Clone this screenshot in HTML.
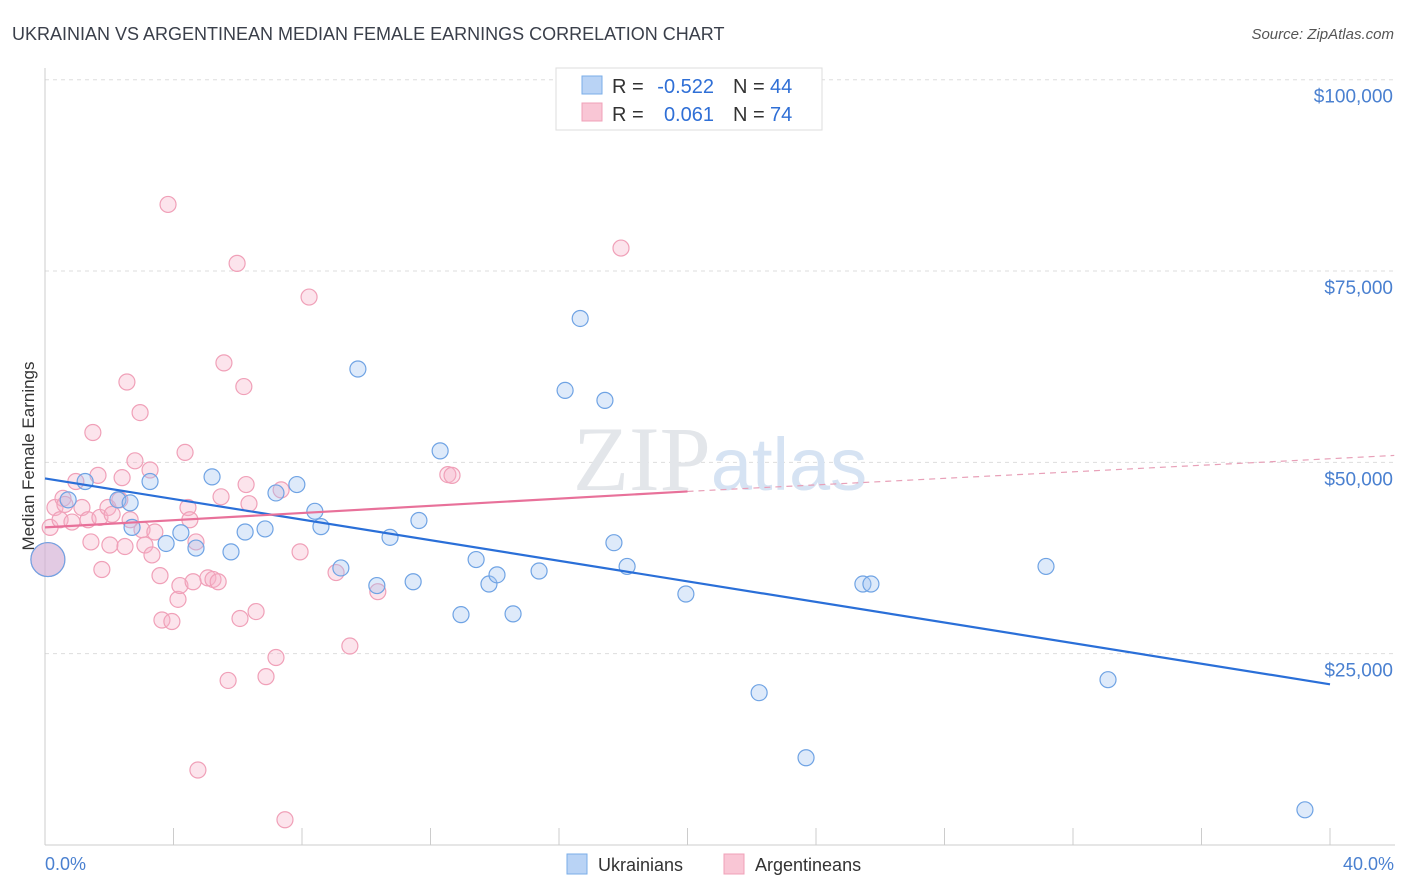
<!DOCTYPE html>
<html><head><meta charset="utf-8"><style>
body{margin:0;background:#fff;font-family:"Liberation Sans",sans-serif}
svg{display:block}
</style></head><body>
<svg id="chart" width="1406" height="892" xmlns="http://www.w3.org/2000/svg">
<text x="12" y="40" font-size="18" fill="#3a3f4a">UKRAINIAN VS ARGENTINEAN MEDIAN FEMALE EARNINGS CORRELATION CHART</text>
<text x="1394" y="39" font-size="15" fill="#555" text-anchor="end" font-style="italic">Source: ZipAtlas.com</text>
<g id="grid"></g>
<text x="720" y="490" font-size="92" text-anchor="middle" fill="#e3e6ea" font-family="Liberation Serif,serif">ZIP<tspan fill="#d6e3f3" font-family="Liberation Sans,sans-serif" font-size="74">atlas</tspan></text>
<line x1="45" y1="68" x2="45" y2="845" stroke="#ccc"/>
<line x1="45" y1="845" x2="1395" y2="845" stroke="#ccc"/>
<g id="xticks"></g>
<text transform="translate(34,456) rotate(-90)" font-size="17" fill="#333" text-anchor="middle">Median Female Earnings</text>
<text x="45" y="870" font-size="18" fill="#4a80d0">0.0%</text>
<text x="1394" y="870" font-size="18" fill="#4a80d0" text-anchor="end">40.0%</text>
<g id="points"></g>
<g id="lines"></g>
<g font-size="20">
<rect x="556" y="68" width="266" height="62" fill="#fff" stroke="#ddd"/>
<rect x="582" y="76" width="20" height="18" fill="#b9d3f5" stroke="#7aaee8"/>
<rect x="582" y="103" width="20" height="18" fill="#f9c6d5" stroke="#f0a0b8"/>
<text x="612" y="93" fill="#333">R =</text>
<text x="714" y="93" fill="#2f6fd6" text-anchor="end">-0.522</text>
<text x="733" y="93" fill="#333">N =</text>
<text x="770" y="93" fill="#2f6fd6">44</text>
<text x="612" y="121" fill="#333">R =</text>
<text x="714" y="121" fill="#2f6fd6" text-anchor="end">0.061</text>
<text x="733" y="121" fill="#333">N =</text>
<text x="770" y="121" fill="#2f6fd6">74</text>
</g>
<g>
<rect x="567" y="854" width="20" height="20" fill="#b9d3f5" stroke="#7aaee8"/>
<text x="598" y="871" font-size="18" fill="#333">Ukrainians</text>
<rect x="724" y="854" width="20" height="20" fill="#f9c6d5" stroke="#f0a0b8"/>
<text x="755" y="871" font-size="18" fill="#333">Argentineans</text>
</g>
</svg>
<script>
const yTicks=[25000,50000,75000,100000];
const yTickLabels=["$25,000","$50,000","$75,000","$100,000"];
const blueX=[0.09,0.72,1.25,2.27,2.65,2.71,3.27,3.77,4.23,4.70,5.20,5.79,6.23,6.85,7.19,7.84,8.40,8.59,9.21,9.74,10.33,10.74,11.46,11.64,12.30,12.95,13.42,13.82,14.07,14.57,15.38,16.19,16.66,17.43,17.71,18.12,19.95,22.23,23.69,25.46,25.71,31.16,33.09,39.22];
const blueY=[37.3,45.1,47.5,45.1,44.7,41.5,47.5,39.4,40.8,38.8,48.1,38.3,40.9,41.3,46.0,47.1,43.6,41.6,36.2,62.2,33.9,40.2,34.4,42.4,51.5,30.1,37.3,34.1,35.3,30.2,35.8,59.4,68.8,58.1,39.5,36.4,32.8,19.9,11.4,34.1,34.1,36.4,21.6,4.6];
const pinkX=[0.09,0.16,0.31,0.47,0.56,0.62,0.84,0.96,1.15,1.34,1.43,1.49,1.65,1.71,1.77,1.96,2.02,2.09,2.33,2.40,2.49,2.55,2.65,2.80,2.96,3.02,3.11,3.27,3.33,3.42,3.58,3.64,3.83,3.95,4.14,4.20,4.36,4.45,4.51,4.61,4.70,4.76,5.07,5.23,5.39,5.48,5.57,5.70,5.98,6.07,6.19,6.26,6.35,6.57,6.88,7.19,7.35,7.47,7.94,8.22,9.06,9.49,10.36,12.54,12.67,17.93];
const pinkY=[37.3,41.5,44.1,42.5,45.3,44.5,42.2,47.5,44.1,42.5,39.6,53.9,48.3,42.8,36.0,44.1,39.2,43.2,45.1,48.0,39.0,60.5,42.5,50.2,56.5,41.2,39.2,49.0,37.9,40.9,35.2,29.4,83.7,29.2,32.1,33.9,51.3,44.1,42.5,34.4,39.6,9.8,34.9,34.7,34.4,45.5,63.0,21.5,76.0,29.6,59.9,47.1,44.6,30.5,22.0,24.5,46.4,3.3,38.3,71.6,35.6,26.0,33.1,48.4,48.3,78.0];
const blueTrend=[0,47.9,40,21.0];
const pinkTrend=[0,41.5,20,46.2,42.0,50.9];
const NS="http://www.w3.org/2000/svg";
const X=v=>45+v*32.125;
const Y=v=>845-v*0.007653;
const Yk=v=>Y(v*1000);
function mk(t,a,p){const e=document.createElementNS(NS,t);for(const k in a)e.setAttribute(k,a[k]);p.appendChild(e);return e;}
const grid=document.getElementById('grid');
yTicks.forEach((t,i)=>{
 const l=mk('line',{x1:45,x2:1395,y1:Y(t),y2:Y(t),stroke:'#ddd','stroke-dasharray':'4,4'},grid);
 
 
 const tx=mk('text',{x:1393,y:Y(t)+23,'font-size':19,fill:'#4a80d0','text-anchor':'end'},grid);
 tx.textContent=yTickLabels[i];
 
 
});
const xt=document.getElementById('xticks');
for(let i=0;i<=10;i++){
 const l=mk('line',{x1:X(i*4),x2:X(i*4),y1:828,y2:845,stroke:'#ccc'},xt);
 
 
}
const pts=document.getElementById('points');
function dots(xs,ys,fill,stroke,name,big){
 xs.forEach((x,i)=>{
  const r=(i===0)?17:8;
  const c=mk('circle',{cx:X(x),cy:Yk(ys[i]),r:r,fill:(i===0)?big:fill,stroke:stroke,'stroke-width':1.2},pts);
  
  
 });
}
dots(pinkX,pinkY,'rgba(246,178,200,0.35)','#f0a0b8','argentinean-point','rgba(246,178,200,0.45)');
dots(blueX,blueY,'rgba(160,195,240,0.35)','#6fa3e4','ukrainian-point','rgba(180,170,220,0.35)');
const ln=document.getElementById('lines');
const b=mk('line',{x1:X(blueTrend[0]),y1:Yk(blueTrend[1]),x2:X(blueTrend[2]),y2:Yk(blueTrend[3]),stroke:'#2a6fd8','stroke-width':2.2},ln);


const p1=mk('line',{x1:X(pinkTrend[0]),y1:Yk(pinkTrend[1]),x2:X(pinkTrend[2]),y2:Yk(pinkTrend[3]),stroke:'#e8719a','stroke-width':2.2},ln);


const p2=mk('line',{x1:X(pinkTrend[2]),y1:Yk(pinkTrend[3]),x2:X(pinkTrend[4]),y2:Yk(pinkTrend[5]),stroke:'#e8a0b8','stroke-width':1.2,'stroke-dasharray':'6,5'},ln);


</script>
</body></html>
